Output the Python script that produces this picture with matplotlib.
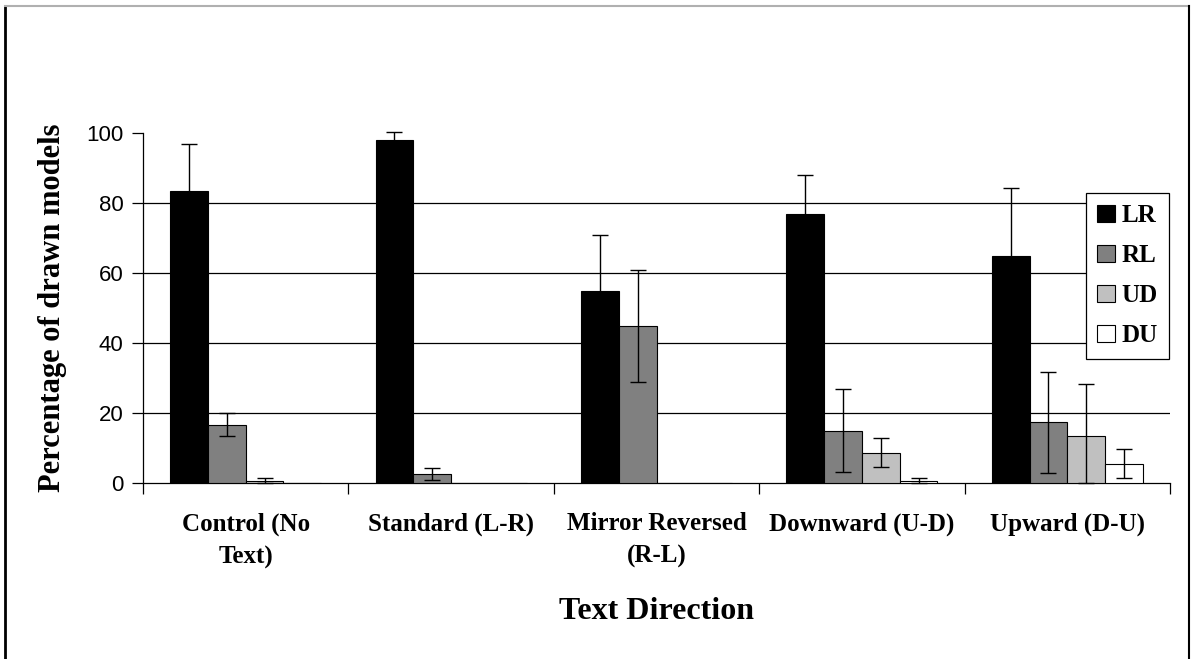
import matplotlib
matplotlib.use("Agg")
import matplotlib.pyplot as plt
import numpy as np
from matplotlib.lines import Line2D

# -----------------------------
# DATA
# -----------------------------
categories = ["Control (No\nText)", "Standard (L-R)", "Mirror Reversed\n(R-L)",
              "Downward (U-D)", "Upward (D-U)"]
series = ["LR", "RL", "UD", "DU"]

lr_vals = [83.5, 98.0, 55.0, 77.0, 65.0]
lr_err = [13.5, 2.3, 16.0, 11.0, 19.3]
rl_vals = [16.7, 2.5, 45.0, 15.0, 17.3]
rl_err = [3.2, 1.7, 16.0, 11.8, 14.3]
ud_vals = [0.5, 0.0, 0.0, 8.7, 13.5]
ud_err = [0.8, 0.0, 0.0, 4.1, 14.9]
du_vals = [0.0, 0.0, 0.0, 0.5, 5.5]
du_err = [0.0, 0.0, 0.0, 0.8, 4.1]

grid_levels = [20, 40, 60, 80]

colors = ["#000000", "#808080", "#c0c0c0", "#ffffff"]
SERIF = ["Liberation Serif", "DejaVu Serif"]
SANS = ["Liberation Sans", "DejaVu Sans"]

fig = plt.figure(figsize=(11.92, 6.59), dpi=100)
ax = fig.add_axes([143 / 1192, 1 - 483 / 659, (1170 - 143) / 1192, (483 - 133) / 659])

vals = [lr_vals, rl_vals, ud_vals, du_vals]
errs = [lr_err, rl_err, ud_err, du_err]
x = np.arange(len(categories))
width = 0.184
for i, (v, e, c, name) in enumerate(zip(vals, errs, colors, series)):
    pos = x + (i - 1.5) * width
    v = np.array(v)
    e = np.array(e)
    ax.bar(pos, v, width, color=c, edgecolor="black", linewidth=0.8, label=name, zorder=3)
    show = e > 0
    # the lower whisker stops at the axis (0)
    lower = np.minimum(e[show], v[show])
    eb = ax.errorbar(pos[show], v[show], yerr=[lower, e[show]], fmt="none", ecolor="black",
                     elinewidth=1.0, capsize=6, capthick=1.0, zorder=4)
    for art in eb.lines[1] + eb.lines[2]:
        art.set_clip_on(False)

ax.set_xlim(-0.5, len(categories) - 0.5)
ax.set_ylim(0, 100)
ax.set_yticks([0, 20, 40, 60, 80, 100])
for g in grid_levels:
    ax.axhline(g, color="black", linewidth=0.9, zorder=1)

ax.set_xticks(np.arange(len(categories) + 1) - 0.5)
ax.set_xticklabels([])
ax.set_xticks(x, minor=True)
ax.set_xticklabels(categories, minor=True, fontsize=18, fontweight="bold", family=SERIF,
                   linespacing=1.55)
ax.tick_params(axis="x", which="major", direction="out", length=8, width=0.9)
ax.tick_params(axis="x", which="minor", length=0, pad=21)
ax.tick_params(axis="y", direction="out", length=8, width=0.9, labelsize=16, pad=6)
for lab in ax.get_yticklabels():
    lab.set_family(SANS)

for s in ["top", "right"]:
    ax.spines[s].set_visible(False)
ax.spines["left"].set_linewidth(0.9)
ax.spines["bottom"].set_linewidth(0.9)

ax.set_ylabel("Percentage of drawn models", fontsize=22, fontweight="bold",
              family=SERIF, labelpad=14)
ax.set_xlabel("Text Direction", fontsize=23, fontweight="bold", family=SERIF, labelpad=20)

leg = ax.legend(loc="upper left", bbox_to_anchor=((1086 - 143) / 1027, 1 - (193 - 133) / 350),
                prop={"family": SERIF, "weight": "bold", "size": 18},
                frameon=True, fancybox=False, edgecolor="black", framealpha=1,
                handlelength=0.72, handleheight=0.72, handletextpad=0.25,
                labelspacing=0.68, borderpad=0.45, borderaxespad=0)
leg.get_frame().set_linewidth(0.9)
leg.set_zorder(5)

# outer border of the figure
fig.add_artist(Line2D([4.5 / 1192, 4.5 / 1192], [0, 1 - 6 / 659], color="black", lw=2,
                      transform=fig.transFigure))
fig.add_artist(Line2D([4.5 / 1192, 1189 / 1192], [1 - 6 / 659, 1 - 6 / 659], color="#b0b0b0",
                      lw=1.5, transform=fig.transFigure))
fig.add_artist(Line2D([1189 / 1192, 1189 / 1192], [0, 1 - 6 / 659], color="black", lw=1.5,
                      transform=fig.transFigure))

fig.savefig("out.png", dpi=100)
